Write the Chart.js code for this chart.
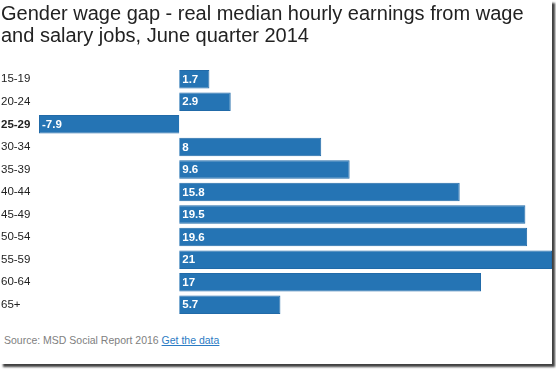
<!DOCTYPE html>
<html>
<head>
<meta charset="utf-8">
<script src="https://cdn.jsdelivr.net/npm/chart.js@4"></script>
<style>
  html, body { margin: 0; padding: 0; background: #fff; }
  #frame {
    position: absolute; left: 0; top: 0;
    width: 552px; height: 364px;
    background: #fff;
    box-shadow: 3px 3px 2px rgba(0, 0, 0, 0.75);
  }
  #wrap { position: absolute; left: 0; top: 0; width: 552px; height: 325px; }
  #source {
    position: absolute; left: 4px; top: 334px;
    font: 10.5px/12px "Liberation Sans", Arial, sans-serif;
    color: #808080; white-space: nowrap;
  }
  #source a { color: #2b7bc4; text-decoration: underline; }
</style>
</head>
<body>
<div id="frame">
  <div id="wrap"><canvas id="gapChart"></canvas></div>
  <div id="source">Source: MSD Social Report 2016 <a href="#">Get the data</a></div>
</div>
<script>
const titleLines = ['Gender wage gap - real median hourly earnings from wage', 'and salary jobs, June quarter 2014']
const ageGroups = ['15-19', '20-24', '25-29', '30-34', '35-39', '40-44', '45-49', '50-54', '55-59', '60-64', '65+']
const wageGap = [1.7, 2.9, -7.9, 8, 9.6, 15.8, 19.5, 19.6, 21, 17, 5.7]
const boldGroup = '25-29'

const FONT = '"Liberation Sans", Arial, sans-serif'

// white value labels drawn at the left end of each bar
const valueLabels = {
  id: 'valueLabels',
  afterDatasetsDraw(chart) {
    const ctx = chart.ctx
    const meta = chart.getDatasetMeta(0)
    ctx.save()
    ctx.font = 'bold 11.5px ' + FONT
    ctx.fillStyle = '#fff'
    ctx.textAlign = 'left'
    ctx.textBaseline = 'middle'
    meta.data.forEach((bar, i) => {
      const x = Math.min(bar.x, bar.base) + 3
      ctx.fillText(String(wageGap[i]), x, bar.y + 0.5)
    })
    ctx.restore()
  }
}

new Chart(document.getElementById('gapChart'), {
  type: 'bar',
  data: {
    labels: ageGroups,
    datasets: [{
      data: wageGap,
      backgroundColor: '#2574b4',
      borderColor: '#216aa8',
      borderWidth: 1,
      barPercentage: 0.82,
      categoryPercentage: 1
    }]
  },
  options: {
    indexAxis: 'y',
    responsive: true,
    maintainAspectRatio: false,
    animation: false,
    layout: { padding: { left: 1, top: 3, right: 0, bottom: 9 } },
    plugins: {
      legend: { display: false },
      tooltip: { enabled: false },
      title: {
        display: true,
        text: titleLines,
        align: 'start',
        color: '#222',
        font: { family: FONT, size: 20, weight: 'normal', lineHeight: 1.1 },
        padding: { top: 0, bottom: 21 }
      }
    },
    scales: {
      x: {
        display: false,
        min: -7.9,
        max: 21
      },
      y: {
        grid: { display: false },
        border: { display: false },
        afterFit: (scale) => { scale.width = 38 },
        ticks: {
          crossAlign: 'far',
          padding: 0,
          color: '#222',
          font: (c) => ({
            family: FONT,
            size: 11.5,
            weight: ageGroups[c.index] === boldGroup ? 'bold' : 'normal'
          })
        }
      }
    }
  },
  plugins: [valueLabels]
})
</script>
</body>
</html>
